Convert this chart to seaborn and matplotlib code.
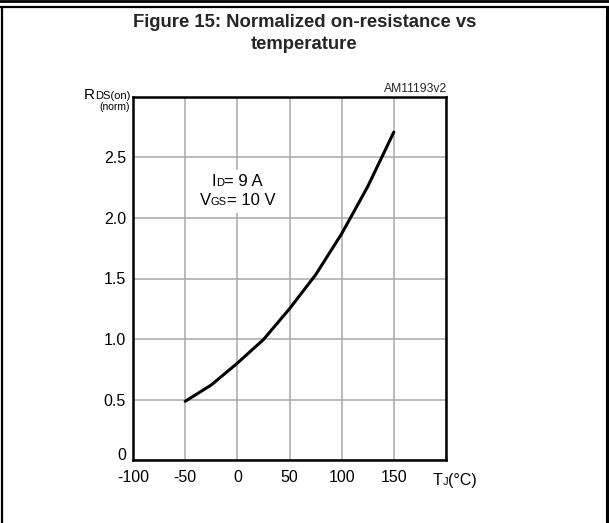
"""
Normalized on-resistance vs temperature (datasheet figure 15)
"""
import matplotlib
matplotlib.use('Agg')
import matplotlib.pyplot as plt
import seaborn as sns
import pandas as pd
from matplotlib.lines import Line2D
from matplotlib.offsetbox import TextArea, HPacker, VPacker, AnnotationBbox

# curve
temp_c = [-50, -25, 0, 25, 50, 75, 100, 125, 150]
rds_norm = [0.485, 0.62, 0.80, 0.995, 1.25, 1.53, 1.87, 2.26, 2.71]

x_ticks = [-100, -50, 0, 50, 100, 150, 200]
x_tick_labels = ['-100', '-50', '0', '50', '100', '150', '']
y_ticks = [0, 0.5, 1.0, 1.5, 2.0, 2.5, 3.0]
y_tick_labels = ['0', '0.5', '1.0', '1.5', '2.0', '2.5', '']

W, H = 609, 523


def mixed(parts):
    """Row of text pieces of different sizes sharing one baseline"""
    boxes = [TextArea(t, textprops=dict(fontsize=s, color='black')) for t, s in parts]
    return HPacker(children=boxes, align='baseline', pad=0, sep=0)


sns.set_style('white')
plt.rcParams['font.family'] = ['Liberation Sans', 'DejaVu Sans']

fig = plt.figure(figsize=(W / 100, H / 100), dpi=100)
ax = fig.add_axes([133 / W, 1 - 460 / H, 313 / W, 363 / H])

df = pd.DataFrame({'T': temp_c, 'R': rds_norm})
sns.lineplot(data=df, x='T', y='R', color='black', linewidth=2.2, ax=ax, zorder=3)

ax.set_xlim(-100, 200)
ax.set_ylim(0, 3)
ax.set_xticks(x_ticks)
ax.set_xticklabels(x_tick_labels)
ax.set_yticks(y_ticks)
ax.set_yticklabels(y_tick_labels)
ax.set_xlabel('')
ax.set_ylabel('')
ax.grid(True, color='#a8a8a8', linewidth=1.1)
ax.set_axisbelow(True)
for s in ax.spines.values():
    s.set_visible(True)
    s.set_color('black')
    s.set_linewidth(1.8)
ax.tick_params(axis='both', length=0, labelsize=11.5, colors='black')
ax.tick_params(axis='x', pad=7)
ax.tick_params(axis='y', pad=5)
ax.get_yticklabels()[0].set_verticalalignment('baseline')

# test conditions
cond = VPacker(children=[mixed([('I', 12), ('D', 8), ('= 9 A', 12)]),
                         mixed([('V', 12), ('GS', 8), ('= 10 V', 12)])],
               align='center', pad=0, sep=3)
ax.add_artist(AnnotationBbox(cond, (0, 2.22), xycoords='data', frameon=True,
                             box_alignment=(0.5, 0.5), pad=0.3, zorder=2,
                             bboxprops=dict(fc='white', ec='none')))

# axis labels
ylab = VPacker(children=[mixed([('R', 11), ('DS(on)', 8)]),
                         mixed([('(norm)', 7.5)])],
               align='right', pad=0, sep=0)
fig.add_artist(AnnotationBbox(ylab, (130, H - 100), xycoords='figure pixels',
                              box_alignment=(1, 0.5), frameon=False, pad=0))
xlab = mixed([('T', 11.5), ('J', 8), ('(°C)', 11.5)])
fig.add_artist(AnnotationBbox(xlab, (433, H - 488), xycoords='figure pixels',
                              box_alignment=(0, 0), frameon=False, pad=0))

fig.text(447 / W, 1 - 92 / H, 'AM11193v2', ha='right', va='baseline', fontsize=8.7)

# title
fig.text(0.5, 1 - 27 / H, 'Figure 15: Normalized on-resistance vs',
         ha='center', va='baseline', fontsize=13.3, fontweight='bold')
fig.text(0.5, 1 - 49 / H, 'temperature',
         ha='center', va='baseline', fontsize=13.3, fontweight='bold')

# frame around the figure
frame = dict(transform=fig.transFigure, color='black')
fig.add_artist(Line2D([0, 1], [1 - 1.3 / H] * 2, lw=2.0, **frame))
fig.add_artist(Line2D([0, 1], [1 - 7.2 / H] * 2, lw=1.6, **frame))
fig.add_artist(Line2D([1.5 / W] * 2, [0, 1 - 7 / H], lw=1.6, **frame))
fig.add_artist(Line2D([606.5 / W] * 2, [0, 1 - 7 / H], lw=2.2, **frame))

plt.savefig('out.png', dpi=100)
